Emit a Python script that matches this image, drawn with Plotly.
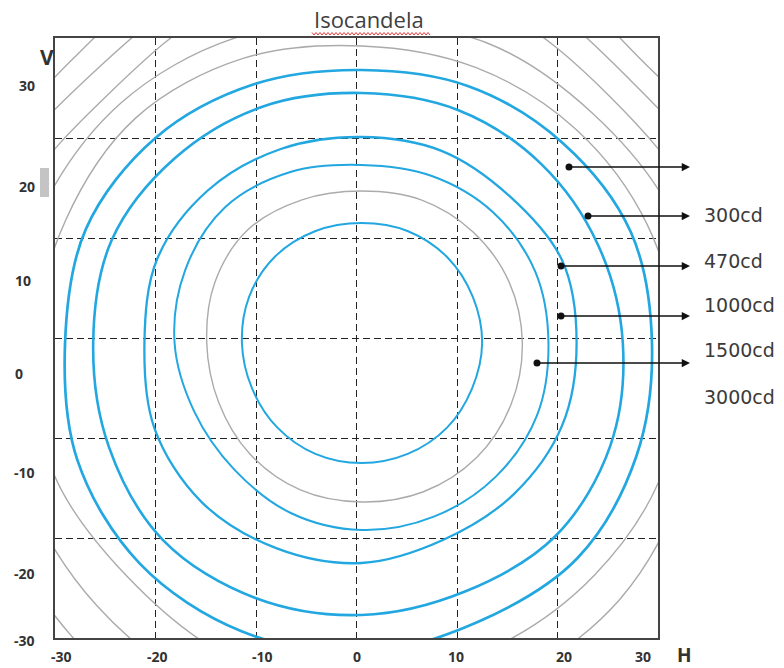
import numpy as np
import plotly.graph_objects as go

# ---------------- data ----------------
TITLE = "Isocandela"
X_TICK_LABELS = ["-30", "-20", "-10", "0", "10", "20", "30"]
Y_TICK_LABELS = ["30", "20", "10", "0", "-10", "-20", "-30"]
GRID_VALUES = [-30, -20, -10, 0, 10, 20, 30]
LEVEL_LABELS = ["300cd", "470cd", "1000cd", "1500cd", "3000cd"]

# Contours read as distance (deg) from the beam centre at 16 directions
CENTER_H = 0.5
CENTER_V = -0.5
ANGLES_DEG = [0, 22.5, 45, 67.5, 90, 112.5, 135, 157.5, 180, 202.5, 225, 247.5, 270, 292.5, 315, 337.5]

# blue contours (inner -> outer)
blue_r1 = [12.0, 12.0, 12.1, 12.1, 12.0, 12.1, 12.2, 12.1, 11.9, 11.8, 11.9, 12.0, 12.0, 12.0, 12.0, 11.9]
blue_r2 = [18.6, 18.7, 18.5, 18.1, 17.8, 18.5, 19.2, 19.0, 18.6, 18.0, 17.9, 18.4, 18.7, 18.8, 18.9, 18.9]
blue_r3 = [21.4, 21.6, 20.8, 20.8, 20.6, 21.0, 21.6, 22.0, 21.6, 22.3, 22.5, 22.2, 22.0, 21.3, 21.4, 21.6]
blue_r4 = [26.0, 25.5, 25.3, 25.2, 25.0, 25.6, 26.2, 26.9, 26.7, 27.2, 27.9, 27.6, 27.2, 26.9, 27.3, 26.8]
blue_r5 = [28.9, 29.0, 28.3, 27.8, 27.3, 28.0, 29.0, 29.7, 29.5, 30.6, 31.2, 31.2, 31.0, 30.2, 30.4, 29.6]

# grey contours (inner -> outer)
grey_r1 = [16.0, 15.9, 15.7, 15.5, 15.2, 15.5, 16.0, 15.8, 15.4, 15.4, 15.7, 15.9, 15.9, 16.1, 16.2, 16.1]
grey_r2 = [31.5, 30.8, 30.2, 29.8, 29.7, 30.8, 31.8, 31.9, 32.5, 33.3, 33.0, 34.0, 34.0, 33.2, 32.8, 32.6]
grey_r3 = [34.0, 33.5, 32.5, 32.5, 32.0, 33.0, 33.9, 34.5, 35.5, 36.5, 37.2, 38.0, 38.0, 37.0, 36.3, 35.0]
grey_r4 = [37.0, 36.0, 34.9, 36.0, 37.0, 36.5, 35.4, 37.0, 38.0, 40.0, 41.1, 42.5, 43.0, 43.0, 43.0, 39.0]
grey_r5 = [40.0, 39.0, 37.5, 39.0, 40.0, 39.0, 38.0, 40.0, 42.0, 44.0, 45.0, 45.0, 45.0, 45.0, 45.0, 43.0]
grey_r6 = [43.0, 42.0, 39.7, 42.0, 43.0, 42.0, 40.4, 42.0, 44.0, 46.0, 47.0, 47.0, 47.0, 47.0, 47.0, 45.0]

# ---------------- styling / layout ----------------
W, H = 784, 668
L, R, T, B = 55, 658, 38, 638  # plot area in pixels


def px(x):
    return (x - L) / (R - L)


def py(y):
    return (B - y) / (B - T)


def ring(radii):
    th = np.radians(ANGLES_DEG + [ANGLES_DEG[0]])
    r = np.array(radii + [radii[0]])
    return CENTER_H + r * np.cos(th), CENTER_V + r * np.sin(th)


BLUE = "#22A7E0"
GREY = "#ABABAB"

fig = go.Figure()

for radii in [grey_r1, grey_r2, grey_r3, grey_r4, grey_r5, grey_r6]:
    hx, vy = ring(radii)
    fig.add_trace(go.Scatter(x=hx, y=vy, mode="lines",
                             line=dict(color=GREY, width=1.4, shape="spline", smoothing=1),
                             showlegend=False, hoverinfo="skip"))
for radii, w in [(blue_r1, 2.0), (blue_r2, 2.0), (blue_r3, 2.3), (blue_r4, 2.6), (blue_r5, 2.7)]:
    hx, vy = ring(radii)
    fig.add_trace(go.Scatter(x=hx, y=vy, mode="lines",
                             line=dict(color=BLUE, width=w, shape="spline", smoothing=1),
                             showlegend=False, hoverinfo="skip"))

axis_common = dict(range=[-30, 30], tickvals=GRID_VALUES, showticklabels=False, ticks="",
                   showgrid=True, gridcolor="#222222", gridwidth=1.3, griddash="7px,4px",
                   zeroline=False, showline=True, linecolor="#444444", linewidth=1.6, mirror=True)

annotations = []
shapes = []

# title
annotations.append(dict(text=TITLE, xref="paper", yref="paper", x=px(369), y=py(19), showarrow=False,
                        xanchor="center", yanchor="middle",
                        font=dict(family="Open Sans", size=22, color="#404040")))
# red wavy underline under the title
pts = []
xx = 312
k = 0
while xx <= 430:
    yy = 32.5 if k % 2 == 0 else 35
    pts.append(f"{px(xx):.5f},{py(yy):.5f}")
    xx += 2
    k += 1
shapes.append(dict(type="path", xref="paper", yref="paper", path="M" + " L".join(pts),
                   line=dict(color="#E03A3A", width=1)))

# tick labels
x_label_px = [61, 157, 262, 357, 456, 564, 643]
for t, xp in zip(X_TICK_LABELS, x_label_px):
    annotations.append(dict(text=t, xref="paper", yref="paper", x=px(xp), y=py(656), showarrow=False,
                            xanchor="center", yanchor="middle",
                            font=dict(family="Open Sans", size=14, color="#333333", weight="bold")))
y_label_pos = [(17, 85), (17, 187), (13, 280), (13, 373), (12, 472), (12, 573), (12, 641)]
for t, (xp, yp) in zip(Y_TICK_LABELS, y_label_pos):
    annotations.append(dict(text=t, xref="paper", yref="paper", x=px(xp), y=py(yp), showarrow=False,
                            xanchor="left", yanchor="middle",
                            font=dict(family="Open Sans", size=14, color="#333333", weight="bold")))
# axis letters
annotations.append(dict(text="V", xref="paper", yref="paper", x=px(47), y=py(57), showarrow=False,
                        xanchor="center", yanchor="middle",
                        font=dict(family="Open Sans", size=21, color="#333333", weight="bold")))
annotations.append(dict(text="H", xref="paper", yref="paper", x=px(684), y=py(655), showarrow=False,
                        xanchor="center", yanchor="middle",
                        font=dict(family="Open Sans", size=19, color="#333333", weight="bold")))

# grey mark next to the "20" label
shapes.append(dict(type="rect", xref="paper", yref="paper", x0=px(40), x1=px(49), y0=py(197), y1=py(168),
                   line=dict(width=0), fillcolor="#C4C4C4"))

# arrows with start dots
arrow_start = [(569, 167), (588, 216), (561, 266), (561, 316), (537, 363)]
arrow_end_x = 690
for sx, sy in arrow_start:
    annotations.append(dict(text="", xref="paper", yref="paper", x=px(arrow_end_x), y=py(sy),
                            ax=-(arrow_end_x - sx), ay=0, showarrow=True, arrowhead=2, arrowsize=1.1,
                            arrowwidth=1.5, arrowcolor="#111111", standoff=0, startstandoff=0))
    r = 3.5
    shapes.append(dict(type="circle", xref="paper", yref="paper", x0=px(sx - r), x1=px(sx + r),
                       y0=py(sy + r), y1=py(sy - r), fillcolor="#111111", line=dict(width=0)))

# level labels
label_y = [215, 261, 305, 350, 397]
for t, yp in zip(LEVEL_LABELS, label_y):
    annotations.append(dict(text=t, xref="paper", yref="paper", x=px(702), y=py(yp), showarrow=False,
                            xanchor="left", yanchor="middle",
                            font=dict(family="DejaVu Sans", size=19, color="#3A3A3A")))

fig.update_layout(
    width=W, height=H,
    margin=dict(l=L, r=W - R, t=T, b=H - B, pad=0),
    paper_bgcolor="white", plot_bgcolor="white",
    xaxis=axis_common, yaxis=axis_common,
    annotations=annotations, shapes=shapes,
    showlegend=False,
)

fig.write_html("out.html", config={"displayModeBar": False},
               post_script="document.body.style.margin='0px';document.body.style.overflow='hidden';")
